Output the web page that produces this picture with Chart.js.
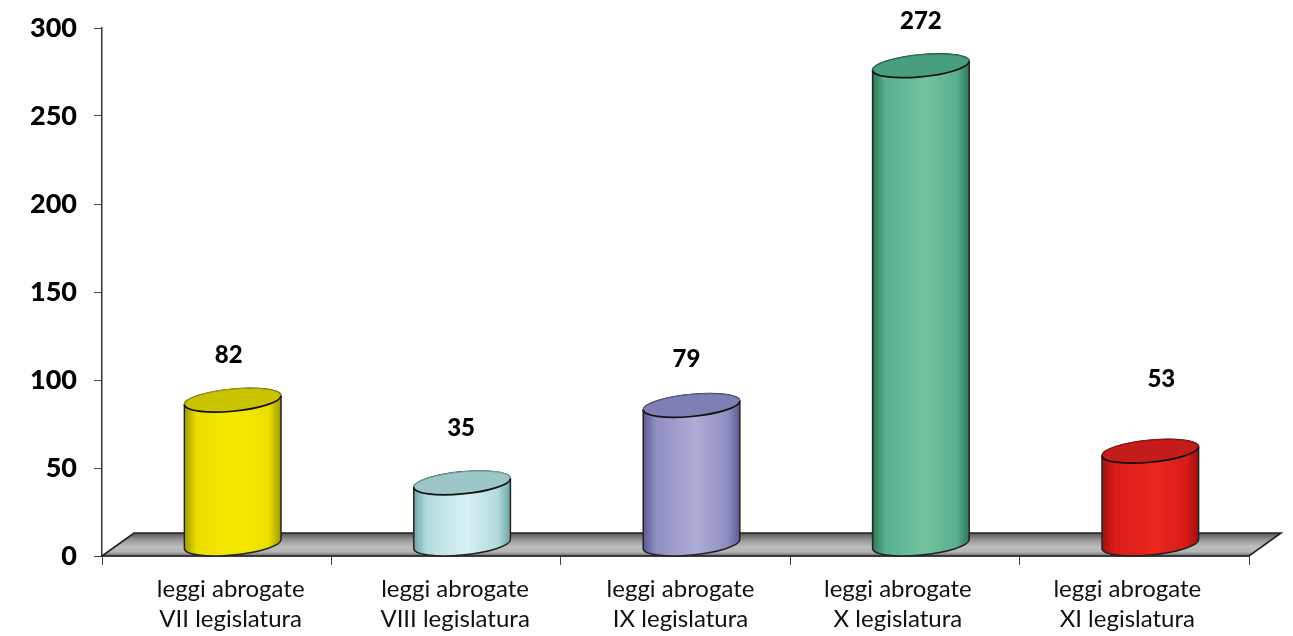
<!DOCTYPE html>
<html>
<head>
<meta charset="utf-8">
<title>Leggi abrogate</title>
<script src="https://cdn.jsdelivr.net/npm/chart.js@4/dist/chart.umd.min.js"></script>
<style>
  html, body { margin: 0; background: #fff; }
  #box { width: 1293px; height: 636px; }
</style>
</head>
<body>
<div id="box"><canvas id="chart"></canvas></div>
<script>
const categories = [
  ['leggi abrogate', 'VII legislatura'],
  ['leggi abrogate', 'VIII legislatura'],
  ['leggi abrogate', 'IX legislatura'],
  ['leggi abrogate', 'X legislatura'],
  ['leggi abrogate', 'XI legislatura']
];
const values = [82, 35, 79, 272, 53];
const yMax = 300;
const yStep = 50;

// cylinder shading, outside to middle, plus the darker top cap
const edgeColors = ['#a09a00', '#6fa3a6', '#5a5a92', '#2f7557', '#9c1010'];
const shadeColors = ['#ebdf00', '#b2dadd', '#8f8ec2', '#57b08e', '#d81c18'];
const bodyColors = ['#f6e900', '#d8f1f5', '#aeadd7', '#74c3a0', '#ea2620'];
const topColors = ['#c9c300', '#9cc6c8', '#7f7fb6', '#479f7d', '#c41b1b'];

// hand placed labels in the original, so they sit off the category centre
const valueNudgeX = [12, 15, 11, 16, 27];
const valueNudgeY = [-56, -66, -58, -56, -83];
const tickNudgeX = [14, 9, 5, -7, -7];

const FONT = 'Lato, "Noto Sans", sans-serif';
const depthX = 32, depthY = 23;
const tilt = -5.5 * Math.PI / 180;
const capRy = 11;

const floorPlugin = {
  id: 'floor',
  beforeDatasetsDraw(chart) {
    const { ctx, chartArea: a } = chart;
    const grad = ctx.createLinearGradient(0, a.bottom - depthY, 0, a.bottom);
    grad.addColorStop(0, '#555');
    grad.addColorStop(0.3, '#969696');
    grad.addColorStop(0.6, '#bebebe');
    grad.addColorStop(0.82, '#b4b4b4');
    grad.addColorStop(1, '#6e6e6e');
    ctx.save();
    ctx.beginPath();
    ctx.moveTo(a.left, a.bottom);
    ctx.lineTo(a.left + depthX, a.bottom - depthY);
    ctx.lineTo(a.right + depthX, a.bottom - depthY);
    ctx.lineTo(a.right, a.bottom);
    ctx.closePath();
    ctx.fillStyle = grad;
    ctx.fill();
    ctx.strokeStyle = '#222';
    ctx.lineWidth = 1.6;
    ctx.stroke();
    ctx.restore();
  }
};

function drawCylinder(ctx, bar, i) {
  const rx = bar.width / 2;
  const cx = bar.x + depthX / 2;
  const topY = bar.y - depthY / 2;
  const baseY = bar.base - depthY / 2;
  const t0 = Math.atan2(-capRy * Math.sin(tilt), rx * Math.cos(tilt));
  const grad = ctx.createLinearGradient(cx - rx, 0, cx + rx, 0);
  grad.addColorStop(0, edgeColors[i]);
  grad.addColorStop(0.13, shadeColors[i]);
  grad.addColorStop(0.55, bodyColors[i]);
  grad.addColorStop(0.87, shadeColors[i]);
  grad.addColorStop(1, edgeColors[i]);

  ctx.save();
  ctx.beginPath();
  ctx.ellipse(cx, baseY, rx, capRy, tilt, t0, t0 + Math.PI);
  ctx.ellipse(cx, topY, rx, capRy, tilt, t0 + Math.PI, t0 + 2 * Math.PI);
  ctx.closePath();
  ctx.fillStyle = grad;
  ctx.fill();
  ctx.lineWidth = 1.5;
  ctx.strokeStyle = '#222';
  ctx.stroke();

  // cap: back rim is soft, front rim is the dark one
  ctx.beginPath();
  ctx.ellipse(cx, topY, rx, capRy, tilt, 0, 2 * Math.PI);
  ctx.fillStyle = topColors[i];
  ctx.fill();
  ctx.beginPath();
  ctx.ellipse(cx, topY, rx, capRy, tilt, t0 + Math.PI, t0 + 2 * Math.PI);
  ctx.strokeStyle = edgeColors[i];
  ctx.lineWidth = 1.2;
  ctx.stroke();
  ctx.beginPath();
  ctx.ellipse(cx, topY, rx, capRy, tilt, t0, t0 + Math.PI);
  ctx.strokeStyle = '#111';
  ctx.lineWidth = 1.7;
  ctx.stroke();
  ctx.restore();
}

const cylinderPlugin = {
  id: 'cylinders',
  beforeDraw(chart) {
    // shift the axis labels once the scale has laid them out
    chart.scales.x.getLabelItems().forEach((item, i) => {
      if (!item.nudged) {
        item.options.translation[0] += tickNudgeX[i];
        item.nudged = true;
      }
    });
  },
  beforeDatasetDraw(chart, args) {
    const { ctx } = chart;
    args.meta.data.forEach((bar, i) => drawCylinder(ctx, bar, i));
    return false;
  },
  afterDatasetsDraw(chart) {
    const { ctx } = chart;
    const bars = chart.getDatasetMeta(0).data;
    ctx.save();
    ctx.font = '900 24px ' + FONT;
    ctx.fillStyle = '#000';
    ctx.textAlign = 'center';
    ctx.textBaseline = 'middle';
    bars.forEach((bar, i) => {
      ctx.fillText(String(values[i]), bar.x + valueNudgeX[i], bar.y + valueNudgeY[i]);
    });
    ctx.restore();
  }
};

new Chart(document.getElementById('chart'), {
  type: 'bar',
  data: {
    labels: categories,
    datasets: [{
      data: values,
      backgroundColor: bodyColors,
      categoryPercentage: 1,
      barPercentage: 0.423
    }]
  },
  options: {
    responsive: true,
    maintainAspectRatio: false,
    animation: false,
    layout: { padding: { top: 28, right: 44, bottom: 0, left: 0 } },
    plugins: { legend: { display: false }, tooltip: { enabled: false } },
    scales: {
      x: {
        afterFit(scale) {
          scale.height = 80;
          scale.paddingTop = 0;
          scale.paddingBottom = 0;
        },
        border: { color: '#333', width: 1.5 },
        grid: { drawOnChartArea: false, color: '#444', tickLength: 9 },
        ticks: {
          color: '#111',
          maxRotation: 0,
          autoSkip: false,
          padding: 9,
          font: { family: FONT, size: 24, lineHeight: 1.26 }
        }
      },
      y: {
        min: 0,
        max: yMax,
        afterFit(scale) {
          scale.width = 102;
          scale.paddingTop = 0;
          scale.paddingBottom = 0;
        },
        border: { color: '#333', width: 1.5 },
        grid: { drawOnChartArea: false, color: '#444', tickLength: 8 },
        ticks: {
          stepSize: yStep,
          color: '#000',
          padding: 17,
          font: { family: FONT, size: 27, weight: '900' }
        }
      }
    }
  },
  plugins: [floorPlugin, cylinderPlugin]
});
</script>
</body>
</html>
